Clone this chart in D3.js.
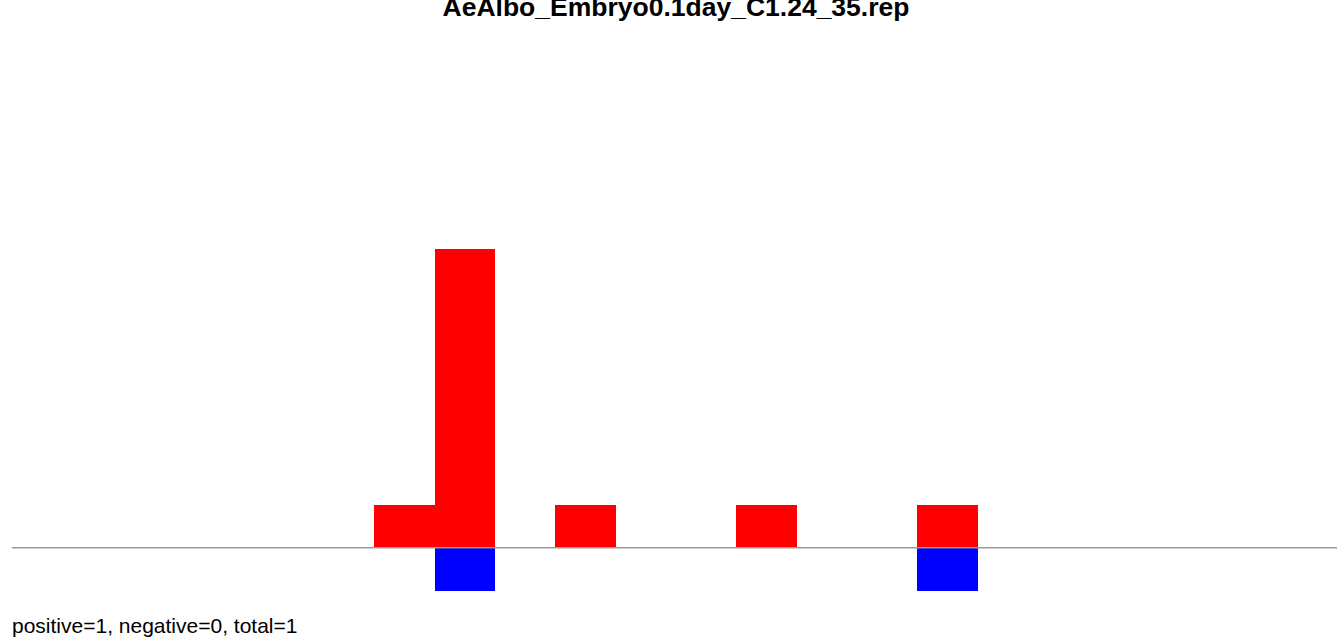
<!DOCTYPE html>
<html>
<head>
<meta charset="utf-8">
<script src="https://cdn.jsdelivr.net/npm/d3@7"></script>
<style>
html,body{margin:0;padding:0;background:#fff;overflow:hidden;}
svg{display:block;}
</style>
</head>
<body>
<svg id="chart" width="1337" height="639"></svg>
<script>
const titleText = "AeAlbo_Embryo0.1day_C1.24_35.rep";
const footerText = "positive=1, negative=0, total=1";
const bins = d3.range(22);
const positiveCounts = [0,0,0,0,0,0,1,7,0,1,0,0,1,0,0,1,0,0,0,0,0,0];
const negativeCounts = [0,0,0,0,0,0,0,1,0,0,0,0,0,0,0,1,0,0,0,0,0,0];

const svg = d3.select("#chart");
const x = d3.scaleBand().domain(bins).range([12.5, 1339.8]).padding(0);
const y = d3.scaleLinear().domain([-1, 7]).range([590.5, 249]);

svg.append("g").attr("shape-rendering", "crispEdges").selectAll("rect")
  .data(bins.filter(i => positiveCounts[i] > 0))
  .join("rect")
  .attr("x", i => x(i))
  .attr("width", x.bandwidth())
  .attr("y", i => y(positiveCounts[i]))
  .attr("height", i => y(0) - y(positiveCounts[i]))
  .attr("fill", "#ff0000");

svg.append("g").attr("shape-rendering", "crispEdges").selectAll("rect")
  .data(bins.filter(i => negativeCounts[i] > 0))
  .join("rect")
  .attr("x", i => x(i))
  .attr("width", x.bandwidth())
  .attr("y", y(0))
  .attr("height", i => y(-negativeCounts[i]) - y(0))
  .attr("fill", "#0000ff");

svg.append("line")
  .attr("x1", 12).attr("x2", 1337)
  .attr("y1", y(0)).attr("y2", y(0))
  .attr("stroke", "#999999").attr("stroke-width", 1.4);

svg.append("text")
  .attr("x", 676).attr("y", 16)
  .attr("text-anchor", "middle")
  .attr("font-family", "Liberation Sans, Arial, sans-serif")
  .attr("font-weight", "bold").attr("font-size", 26.5)
  .text(titleText);

svg.append("text")
  .attr("x", 12).attr("y", 633)
  .attr("font-family", "Liberation Sans, Arial, sans-serif")
  .attr("font-size", 21)
  .text(footerText);
</script>
</body>
</html>
